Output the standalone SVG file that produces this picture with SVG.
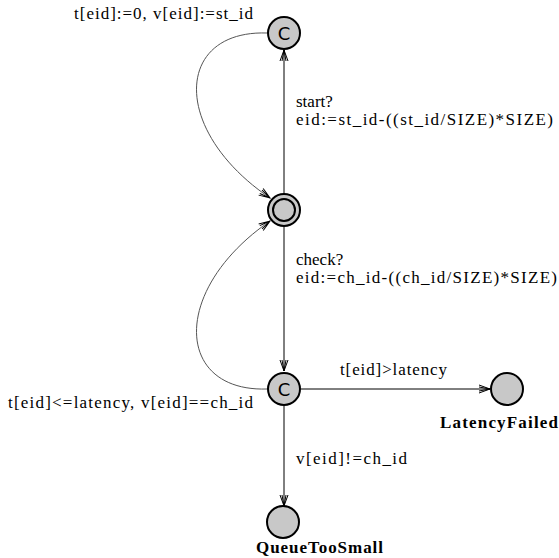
<svg xmlns="http://www.w3.org/2000/svg" width="559" height="558" viewBox="0 0 559 558">
  <style>
    .loc { fill: #c8c8c8; stroke: #000; stroke-width: 2; }
    .edge { fill: none; stroke: #000; stroke-width: 1; }
    .curve { fill: none; stroke: #555; stroke-width: 1; }
    .lbl { font-family: "Liberation Serif", "Times New Roman", serif; font-size: 17px; fill: #000; }
    .name { font-family: "Liberation Serif", "Times New Roman", serif; font-size: 17px; font-weight: bold; fill: #000; }
    .c { font-family: "DejaVu Sans", sans-serif; font-size: 18px; fill: #000; text-anchor: middle; }
  </style>
  <defs>
    <marker id="arrow" markerUnits="userSpaceOnUse" markerWidth="14" markerHeight="12" refX="0" refY="0" viewBox="-12 -6 14 12" orient="auto" overflow="visible">
      <path d="M-11,-4 L0,0 L-11,4 M-11,-2 L0,0 L-11,2" fill="none" stroke="#000" stroke-width="1"/>
    </marker>
  </defs>

  <!-- transitions -->
  <g id="edges">
    <line class="edge" x1="284" y1="194" x2="284" y2="50" marker-end="url(#arrow)"/>
    <path class="curve" d="M267,33 C175,30 170,130 270,198" marker-end="url(#arrow)"/>
    <line class="edge" x1="284" y1="227" x2="284" y2="371" marker-end="url(#arrow)"/>
    <path class="curve" d="M267,389 C175,392 170,290 270,221" marker-end="url(#arrow)"/>
    <line class="edge" x1="301" y1="389" x2="490" y2="389" marker-end="url(#arrow)"/>
    <line class="edge" x1="284" y1="406" x2="284" y2="506" marker-end="url(#arrow)"/>
  </g>

  <!-- edge labels -->
  <g id="labels">
    <text class="lbl" x="74" y="19" textLength="179" lengthAdjust="spacing">t[eid]:=0, v[eid]:=st_id</text>
    <text class="lbl" x="296" y="107">start?</text>
    <text class="lbl" x="296" y="125" textLength="257" lengthAdjust="spacing">eid:=st_id-((st_id/SIZE)*SIZE)</text>
    <text class="lbl" x="296" y="265">check?</text>
    <text class="lbl" x="296" y="283" textLength="261" lengthAdjust="spacing">eid:=ch_id-((ch_id/SIZE)*SIZE)</text>
    <text class="lbl" x="340" y="375" textLength="107" lengthAdjust="spacing">t[eid]&gt;latency</text>
    <text class="lbl" x="8" y="408" textLength="245" lengthAdjust="spacing">t[eid]&lt;=latency, v[eid]==ch_id</text>
    <text class="lbl" x="296" y="464" textLength="111" lengthAdjust="spacing">v[eid]!=ch_id</text>
  </g>

  <!-- locations -->
  <g id="startNode">
    <circle class="loc" cx="284" cy="33" r="16"/>
    <text class="c" x="284" y="40">C</text>
  </g>
  <g id="initNode">
    <circle class="loc" cx="284" cy="210" r="16"/>
    <circle class="loc" cx="284" cy="210" r="11"/>
  </g>
  <g id="checkNode">
    <circle class="loc" cx="284" cy="389" r="16"/>
    <text class="c" x="284" y="396">C</text>
  </g>
  <g id="LatencyFailed">
    <circle class="loc" cx="507" cy="389" r="16"/>
    <text class="name" x="440" y="428" textLength="118" lengthAdjust="spacing">LatencyFailed</text>
  </g>
  <g id="QueueTooSmall">
    <circle class="loc" cx="283" cy="522" r="16"/>
    <text class="name" x="256" y="553" textLength="127" lengthAdjust="spacing">QueueTooSmall</text>
  </g>
</svg>
